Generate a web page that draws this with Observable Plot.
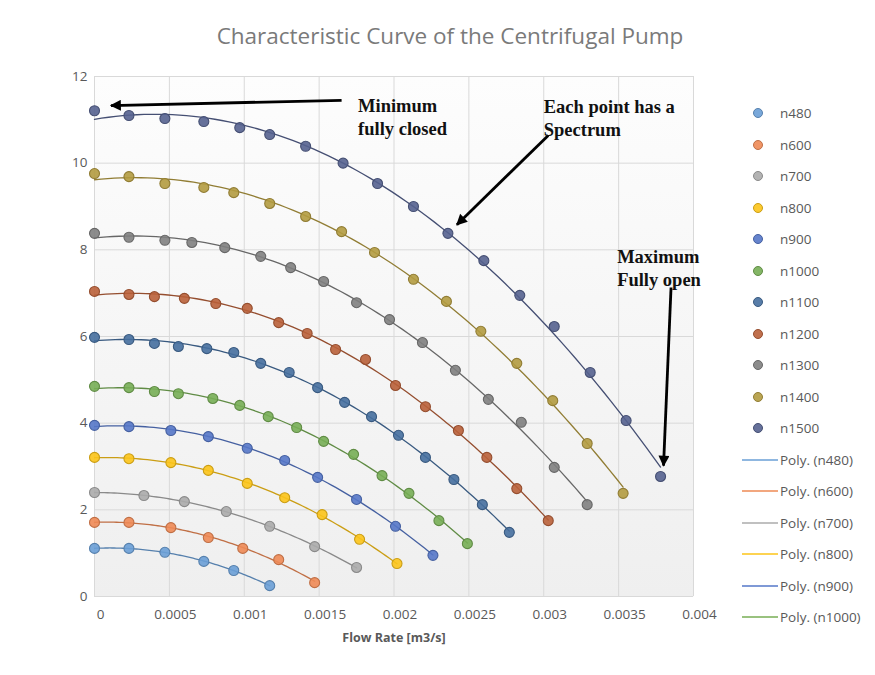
<!DOCTYPE html>
<html>
<head>
<meta charset="utf-8">
<script src="https://cdn.jsdelivr.net/npm/d3@7"></script>
<script src="https://cdn.jsdelivr.net/npm/@observablehq/plot@0.6"></script>
<style>
  body { margin: 0; background: #fff; font-family: "Open Sans", sans-serif; }
  #wrap { position: relative; width: 875px; height: 675px; overflow: hidden; background: #fff; }
  #title { position: absolute; left: 0; top: 20px; width: 900px; text-align: center; font-size: 22.5px; color: #7a7a7a; font-family: "Open Sans", sans-serif; white-space: nowrap; }
  #chart { position: absolute; left: 0; top: 55px; }
  #legend { position: absolute; left: 740px; top: 0; font-size: 13.5px; color: #595959; }
  .row { position: absolute; left: 0; height: 20px; display: flex; align-items: center; white-space: nowrap; }
  .row svg { display: block; }
</style>
</head>
<body>
<div id="wrap">
  <div id="title"></div>
  <div id="chart"></div>
  <div id="legend"></div>
</div>
<script>
// ---------- data ----------
const chartTitle = "Characteristic Curve of the Centrifugal Pump";
const xAxisLabel = "Flow Rate [m3/s]";
const seriesNames = ["n480","n600","n700","n800","n900","n1000","n1100","n1200","n1300","n1400","n1500"];
const seriesColors = ["#6a9fd6","#ee8a55","#ababab","#fcc419","#5577c8","#77ae55","#466f9f","#b9603a","#808080","#b39b40","#55628f"];
const polyLegendNames = ["n480","n600","n700","n800","n900","n1000"];

const q480 = [0, 0.00023, 0.00047, 0.00073, 0.00093, 0.00117];
const h480 = [1.11, 1.11, 1.02, 0.81, 0.60, 0.25];
const q600 = [0, 0.00023, 0.00051, 0.00076, 0.00099, 0.00123, 0.00147];
const h600 = [1.71, 1.71, 1.59, 1.36, 1.11, 0.85, 0.32];
const q700 = [0, 0.00033, 0.00060, 0.00088, 0.00117, 0.00147, 0.00175];
const h700 = [2.40, 2.33, 2.19, 1.96, 1.62, 1.15, 0.67];
const q800 = [0, 0.00023, 0.00051, 0.00076, 0.00102, 0.00127, 0.00152, 0.00177, 0.00202];
const h800 = [3.21, 3.18, 3.09, 2.91, 2.61, 2.28, 1.89, 1.32, 0.76];
const q900 = [0, 0.00023, 0.00051, 0.00076, 0.00102, 0.00127, 0.00149, 0.00175, 0.00201, 0.00226];
const h900 = [3.95, 3.92, 3.83, 3.69, 3.42, 3.14, 2.75, 2.24, 1.62, 0.95];
const q1000 = [0, 0.00023, 0.00040, 0.00056, 0.00079, 0.00097, 0.00116, 0.00135, 0.00153, 0.00173, 0.00192, 0.00210, 0.00230, 0.00249];
const h1000 = [4.85, 4.82, 4.73, 4.68, 4.57, 4.41, 4.15, 3.90, 3.58, 3.28, 2.79, 2.38, 1.75, 1.22];
const q1100 = [0, 0.00023, 0.00040, 0.00056, 0.00075, 0.00093, 0.00111, 0.00130, 0.00149, 0.00167, 0.00185, 0.00203, 0.00221, 0.00240, 0.00259, 0.00277];
const h1100 = [5.98, 5.93, 5.84, 5.77, 5.72, 5.63, 5.38, 5.17, 4.82, 4.48, 4.15, 3.72, 3.21, 2.70, 2.12, 1.48];
const q1200 = [0, 0.00023, 0.00040, 0.00060, 0.00081, 0.00102, 0.00123, 0.00142, 0.00161, 0.00181, 0.00201, 0.00221, 0.00243, 0.00262, 0.00282, 0.00303];
const h1200 = [7.04, 6.97, 6.92, 6.88, 6.76, 6.65, 6.32, 6.07, 5.70, 5.47, 4.87, 4.38, 3.83, 3.21, 2.49, 1.75];
const q1300 = [0, 0.00023, 0.00047, 0.00065, 0.00087, 0.00111, 0.00131, 0.00153, 0.00175, 0.00197, 0.00219, 0.00241, 0.00263, 0.00285, 0.00307, 0.00329];
const h1300 = [8.38, 8.29, 8.22, 8.17, 8.05, 7.85, 7.59, 7.27, 6.78, 6.39, 5.86, 5.22, 4.55, 4.02, 2.98, 2.12];
const q1400 = [0, 0.00023, 0.00047, 0.00073, 0.00093, 0.00117, 0.00141, 0.00165, 0.00187, 0.00213, 0.00235, 0.00258, 0.00282, 0.00306, 0.00329, 0.00353];
const h1400 = [9.76, 9.69, 9.53, 9.44, 9.32, 9.07, 8.77, 8.42, 7.94, 7.32, 6.81, 6.12, 5.38, 4.52, 3.53, 2.38];
const q1500 = [0, 0.00023, 0.00047, 0.00073, 0.00097, 0.00117, 0.00141, 0.00166, 0.00189, 0.00213, 0.00236, 0.00260, 0.00284, 0.00307, 0.00331, 0.00355, 0.00378];
const h1500 = [11.21, 11.10, 11.03, 10.96, 10.82, 10.66, 10.39, 10.00, 9.53, 9.00, 8.38, 7.75, 6.95, 6.23, 5.17, 4.06, 2.77];

const xTicks = [0, 0.0005, 0.001, 0.0015, 0.002, 0.0025, 0.003, 0.0035, 0.004];
const xTickLabels = ["0", "0.0005", "0.001", "0.0015", "0.002", "0.0025", "0.003", "0.0035", "0.004"];
const yTicks = [0, 2, 4, 6, 8, 10, 12];

// annotation texts and arrows (data coordinates)
const noteTexts = ["Minimum\nfully closed", "Each point has a\nSpectrum", "Maximum\nFully open"];
const noteX = [0.00176, 0.00300, 0.00349];
const noteY = [11.56, 11.54, 8.08];
const arrowX1 = [0.00165, 0.00303, 0.00385];
const arrowY1 = [11.45, 10.64, 7.13];
const arrowX2 = [0.00011, 0.00242, 0.00380];
const arrowY2 = [11.33, 8.58, 3.02];

// ---------- build tables ----------
const qs = [q480, q600, q700, q800, q900, q1000, q1100, q1200, q1300, q1400, q1500];
const hs = [h480, h600, h700, h800, h900, h1000, h1100, h1200, h1300, h1400, h1500];
const points = [];
seriesNames.forEach((s, i) => qs[i].forEach((q, j) => points.push({series: s, q, h: hs[i][j]})));

// polynomial (order 2) least-squares trendline, like the spreadsheet's "Poly." trendline
function quadFit(xs, ys) {
  const u = xs.map(x => x * 1000);
  let S = [0,0,0,0,0], T = [0,0,0];
  u.forEach((x, k) => {
    const y = ys[k];
    for (let p = 0; p < 5; p++) S[p] += Math.pow(x, p);
    for (let p = 0; p < 3; p++) T[p] += y * Math.pow(x, p);
  });
  const A = [[S[0],S[1],S[2],T[0]],[S[1],S[2],S[3],T[1]],[S[2],S[3],S[4],T[2]]];
  for (let i = 0; i < 3; i++) {
    let m = i; for (let r = i+1; r < 3; r++) if (Math.abs(A[r][i]) > Math.abs(A[m][i])) m = r;
    [A[i], A[m]] = [A[m], A[i]];
    for (let r = 0; r < 3; r++) if (r !== i) {
      const f = A[r][i] / A[i][i];
      for (let c = i; c < 4; c++) A[r][c] -= f * A[i][c];
    }
  }
  const c = [A[0][3]/A[0][0], A[1][3]/A[1][1], A[2][3]/A[2][2]];
  return x => { const v = x * 1000; return c[0] + c[1]*v + c[2]*v*v; };
}
const trend = [];
seriesNames.forEach((s, i) => {
  const f = quadFit(qs[i], hs[i]);
  const lo = d3.min(qs[i]), hi = d3.max(qs[i]);
  d3.range(0, 81).forEach(k => { const q = lo + (hi - lo) * k / 80; trend.push({series: s, q, h: f(q)}); });
});
const notes = noteTexts.map((t, i) => ({t, x: noteX[i], y: noteY[i]}));
const arrows = arrowX1.map((x, i) => ({x1: x, y1: arrowY1[i], x2: arrowX2[i], y2: arrowY2[i]}));

const color = {domain: seriesNames, range: seriesColors};
const darker = c => d3.color(c).darker(0.6).formatHex();

document.getElementById("title").textContent = chartTitle;

const plot = Plot.plot({
  width: 875,
  height: 620,
  marginTop: 21,
  marginLeft: 94,
  marginRight: 182,
  marginBottom: 79,
  style: {fontFamily: "Open Sans, sans-serif", fontSize: "13.5px", color: "#595959", background: "transparent", overflow: "visible"},
  x: {domain: [0, 0.004], ticks: xTicks},
  y: {domain: [0, 12], ticks: yTicks},
  color: color,
  marks: [
    Plot.frame({fill: "url(#plotBg)", stroke: null}),
    Plot.gridX(xTicks, {stroke: "#d9d9d9", strokeOpacity: 1, strokeWidth: 1}),
    Plot.gridY(yTicks, {stroke: "#d9d9d9", strokeOpacity: 1, strokeWidth: 1}),
    Plot.line(trend, {x: "q", y: "h", z: "series", stroke: d => darker(seriesColors[seriesNames.indexOf(d.series)]), strokeWidth: 1.3, curve: "linear"}),
    Plot.dot(points, {x: "q", y: "h", r: 5, fill: "series", fillOpacity: 0.9,
      stroke: d => darker(seriesColors[seriesNames.indexOf(d.series)]), strokeWidth: 1.1}),
    Plot.link(arrows, {x1: "x1", y1: "y1", x2: "x2", y2: "y2", stroke: "#000", strokeWidth: 2.8, className: "annot-arrow"}),
    Plot.text(notes, {x: "x", y: "y", text: "t", textAnchor: "start", lineAnchor: "top", lineHeight: 1.25,
      fontFamily: "Liberation Serif, Times New Roman, serif", fontWeight: "bold", fontSize: 18.5, fill: "#111"}),
    Plot.axisX(xTicks, {tickSize: 0, tickPadding: 13, dx: 6, tickFormat: (d, i) => xTickLabels[xTicks.indexOf(d)], label: null, fontSize: 13.5}),
    Plot.axisY(yTicks, {tickSize: 0, tickPadding: 7, label: null, fontSize: 13.5}),
    Plot.text([xAxisLabel], {frameAnchor: "bottom", dy: 45, text: d => d, fontWeight: "bold", fontSize: 12.5, fill: "#595959"})
  ]
});
const defs = d3.select(plot).insert("defs", ":first-child");
defs.html(
  `<linearGradient id="plotBg" x1="0" y1="0" x2="0" y2="1">
     <stop offset="0" stop-color="#fdfdfd"/><stop offset="1" stop-color="#efefef"/>
   </linearGradient>
   <marker id="annotHead" viewBox="0 0 10 10" refX="9" refY="5" markerUnits="userSpaceOnUse"
           markerWidth="14" markerHeight="11" orient="auto">
     <path d="M0,0 L10,5 L0,10 Z" fill="#000"/>
   </marker>`);
d3.select(plot).selectAll(".annot-arrow path").attr("marker-end", "url(#annotHead)");
document.getElementById("chart").appendChild(plot);

// ---------- legend ----------
const legend = d3.select("#legend");
const rowTop = 103, rowStep = 31.5;
seriesNames.forEach((s, i) => {
  const r = legend.append("div").attr("class", "row").style("top", (rowTop + i * rowStep) + "px");
  const sv = r.append("svg").attr("width", 40).attr("height", 20);
  sv.append("circle").attr("cx", 18).attr("cy", 10).attr("r", 4.5)
    .attr("fill", seriesColors[i]).attr("fill-opacity", 0.9).attr("stroke", darker(seriesColors[i])).attr("stroke-width", 1);
  r.append("span").text(s);
});
polyLegendNames.forEach((s, k) => {
  const i = seriesNames.indexOf(s);
  const r = legend.append("div").attr("class", "row").style("top", (rowTop + (seriesNames.length + k) * rowStep) + "px");
  const sv = r.append("svg").attr("width", 40).attr("height", 20);
  sv.append("line").attr("x1", 2).attr("x2", 38).attr("y1", 10).attr("y2", 10)
    .attr("stroke", seriesColors[i]).attr("stroke-width", 1.4);
  r.append("span").text("Poly. (" + s + ")");
});
</script>
</body>
</html>
